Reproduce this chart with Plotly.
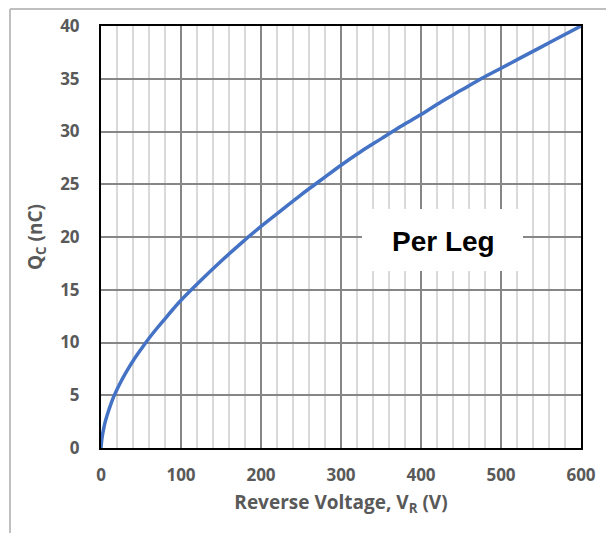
import plotly.graph_objects as go

voltage = [0, 1, 2, 3, 5, 7, 10, 15, 20, 25, 30, 35, 40, 50, 60, 70, 80, 90, 100,
           125, 150, 175, 200, 225, 250, 275, 300, 325, 350, 375, 400, 425, 450, 475, 500, 525, 550, 575, 600]
charge = [0, 0.8, 1.3, 1.7, 2.4, 2.95, 3.65, 4.7, 5.55, 6.3, 7.0, 7.65, 8.25, 9.35, 10.4, 11.35, 12.25, 13.15, 14.0,
          15.9, 17.7, 19.4, 21.0, 22.5, 24.0, 25.4, 26.8, 28.1, 29.3, 30.5, 31.6, 32.8, 33.9, 35.0, 36.0, 37.0, 38.0, 39.0, 40.0]

x_ticks = [0, 100, 200, 300, 400, 500, 600]
y_ticks = [0, 5, 10, 15, 20, 25, 30, 35, 40]

# page has an 8px body margin; figure is sized to fit the window
OFF = 8
W, H = 614 - OFF, 533 - OFF
L, T = 101 - OFF, 26 - OFF
pw, ph = 480, 422
R, B = W - L - pw, H - T - ph

def px_x(px):
    return (px - OFF - L) / pw

def px_y(py):
    return (T + ph - (py - OFF)) / ph

fig = go.Figure()
fig.add_trace(go.Scatter(
    x=voltage, y=charge, mode="lines",
    line=dict(color="#4472C4", width=3.5, shape="spline", smoothing=1.0),
    showlegend=False, hoverinfo="skip",
))

FONT = "Open Sans, Lato, sans-serif"
tick_font = dict(family=FONT, size=17, color="#595959")
title_font = dict(family=FONT, size=19, color="#595959")

fig.update_xaxes(
    range=[0, 600], tickvals=x_ticks, ticktext=[f"<b>{v}</b>" for v in x_ticks],
    showgrid=True, gridcolor="#868686", gridwidth=1.5,
    minor=dict(dtick=20, showgrid=True, gridcolor="#d9d9d9", gridwidth=1.5),
    showline=True, linecolor="black", linewidth=2, mirror=True,
    ticks="", tickfont=tick_font, ticklabelstandoff=11, zeroline=False,
    automargin=False,
    title=dict(text="<b>Reverse Voltage, V<sub>R</sub> (V)</b>", font=title_font, standoff=10),
)
fig.update_yaxes(
    range=[0, 40], tickvals=y_ticks, ticktext=[f"<b>{v}</b>" for v in y_ticks],
    showgrid=True, gridcolor="#868686", gridwidth=1.5,
    showline=True, linecolor="black", linewidth=2, mirror=True,
    ticks="", tickfont=tick_font, ticklabelstandoff=16, zeroline=False,
    automargin=False,
    title=dict(text="<b>Q<sub>C</sub> (nC)</b>", font=title_font, standoff=12),
)

# white box behind label
fig.add_shape(type="rect", xref="paper", yref="paper",
              x0=px_x(362), x1=px_x(523), y0=px_y(271), y1=px_y(209),
              fillcolor="white", line=dict(width=0), layer="above")
fig.add_annotation(xref="paper", yref="paper",
                   x=px_x(443), y=px_y(242), xanchor="center", yanchor="middle",
                   text="<b>Per Leg</b>", showarrow=False,
                   font=dict(family="Liberation Sans, Arial, sans-serif", size=28, color="black"))

# outer chart border (top and left visible)
fig.add_shape(type="line", xref="paper", yref="paper",
              x0=px_x(10), x1=px_x(630), y0=px_y(9), y1=px_y(9),
              line=dict(color="#bfbfbf", width=2), layer="above")
fig.add_shape(type="line", xref="paper", yref="paper",
              x0=px_x(10), x1=px_x(10), y0=px_y(9), y1=px_y(540),
              line=dict(color="#bfbfbf", width=2), layer="above")

fig.update_layout(
    width=W, height=H,
    margin=dict(l=L, r=R, t=T, b=B),
    paper_bgcolor="white", plot_bgcolor="white",
)

fig.write_html("out.html")
